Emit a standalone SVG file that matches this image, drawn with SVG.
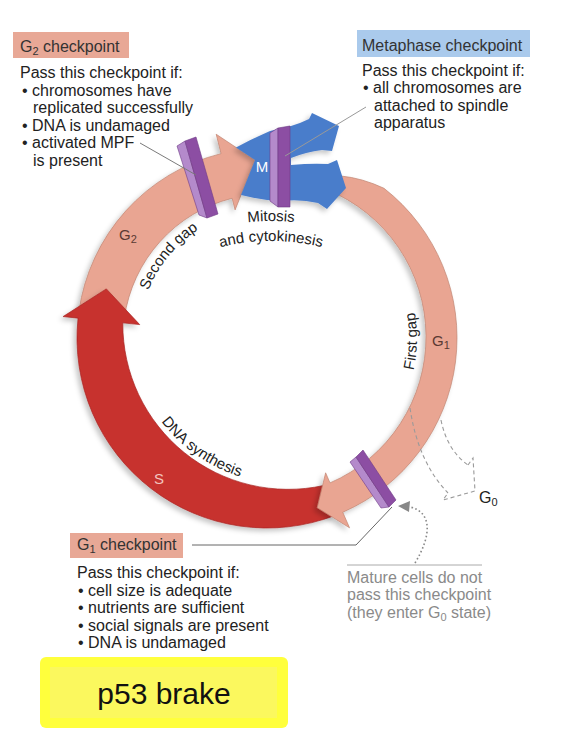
<svg xmlns="http://www.w3.org/2000/svg" width="574" height="746" viewBox="0 0 574 746">
<style>
.t{font-family:"Liberation Sans",Arial,sans-serif;font-size:16px;fill:#222}
.r{font-family:"Liberation Sans",Arial,sans-serif;font-size:15px;fill:#222}
.g{fill:#8a8a8a}
.sal{fill:#E9A592;stroke:#C08573;stroke-width:0.7}
.red{fill:#C7302E;stroke:#A82624;stroke-width:0.7}
.blue{fill:#4A7DCB}
.pd{fill:#8C4EA3;stroke:#6E3A86;stroke-width:0.6}
.pl{fill:#B48ACB;stroke:#6E3A86;stroke-width:0.6}
.ln{fill:none;stroke:#7a7a7a;stroke-width:1}
.dash{fill:none;stroke:#9a9a9a;stroke-width:1.1;stroke-dasharray:4 3}
</style>
<defs>
<filter id="sh" x="-10%" y="-10%" width="120%" height="120%">
<feGaussianBlur in="SourceAlpha" stdDeviation="2.5"/>
<feOffset dx="-3" dy="3" result="b"/>
<feFlood flood-color="#000" flood-opacity="0.22"/>
<feComposite in2="b" operator="in"/>
<feMerge><feMergeNode/><feMergeNode in="SourceGraphic"/></feMerge>
</filter>
<path id="p-second" d="M 140.5,318.5 A 131 131 0 0 1 224.5,216.5"/>
<path id="p-first" d="M 402.95,401.39 A 150 150 0 0 0 405.68,280.84"/>
<path id="p-dna" d="M 137.80,378.72 A 160 160 0 0 0 288.15,484"/>
<path id="p-mit" d="M 231,224.8 A 212 212 0 0 1 311,224.8"/>
<path id="p-cyt" d="M 201,252.9 A 212 212 0 0 1 341,252.9"/>
</defs>

<g id="phase-G2" filter="url(#sh)">
<path class="sal" d="M 78.85,311.56 A 190 190 0 0 1 221.04,153.64 L 216.20,134.24 L 255,160 L 235.07,209.92 L 232.16,198.28 A 144 144 0 0 0 124.40,317.96 Z"/>
</g>
<g id="phase-S" filter="url(#sh)">
<path class="red" d="M 335.09,515.38 A 190 190 0 0 1 78.04,318.14 L 63.12,316.57 L 106.34,288.88 L 139.70,324.62 L 122.79,322.84 A 165.4 165.4 0 0 0 323.62,485.51 Z"/>
</g>
<g id="phase-G1" filter="url(#sh)">
<path class="sal" d="M 341,176 Q 362,178 383.98,188.28 A 190 190 0 0 1 342.76,512.24 L 349.54,527.83 L 317.27,507.71 L 325.62,472.81 L 330.00,482.90 A 159 159 0 0 0 326.94,189.65 Z"/>
</g>
<g id="phase-M" filter="url(#sh)">
<path class="blue" d="M 236,147.4 Q 252,139 270,131 L 291,126 Q 301,123 309,119 L 312,113 L 339,126 L 332,151 L 322,150 Q 306,152 291,158 L 291,165 Q 312,163 328,164 L 337,160 L 346,188 L 327,209 L 318,203 Q 300,199 282,201 Q 260,200 241,195 L 255,160 Z"/>
</g>

<g id="phase-labels">
<text class="r" x="119" y="240" style="fill:#5a3a33">G<tspan font-size="11" dy="3">2</tspan></text>
<text class="r" x="432" y="346" style="fill:#5a3a33">G<tspan font-size="11" dy="3">1</tspan></text>
<text class="r" x="154" y="484" style="fill:#F3C4BE">S</text>
<text class="r" x="262" y="172" text-anchor="middle" style="fill:#fff">M</text>
<text class="r"><textPath href="#p-second" startOffset="50%" text-anchor="middle">Second gap</textPath></text>
<text class="r"><textPath href="#p-first" startOffset="50%" text-anchor="middle">First gap</textPath></text>
<text class="r"><textPath href="#p-dna" startOffset="50%" text-anchor="middle">DNA synthesis</textPath></text>
<text class="r"><textPath href="#p-mit" startOffset="50%" text-anchor="middle">Mitosis</textPath></text>
<text class="r"><textPath href="#p-cyt" startOffset="50%" text-anchor="middle">and cytokinesis</textPath></text>
</g>

<g id="bar-G2">
<polygon class="pl" points="177,146 185,141 207,218 199,215"/>
<polygon class="pd" points="185,141 196,137 218,214 207,218"/>
</g>
<g id="bar-M">
<polygon class="pl" points="270,133 278,128 278,207 270,201"/>
<polygon class="pd" points="278,128 290,126 290,207 278,207"/>
</g>
<g id="bar-G1">
<polygon class="pl" points="350,462 356,457 389,507 381,508"/>
<polygon class="pd" points="356,457 363,450 396,500 389,507"/>
</g>

<g id="connectors">
<path class="ln" d="M 140,143 L 196,175"/>
<path class="ln" d="M 285,156 L 366,107" style="stroke:#999"/>
<path class="ln" d="M 192,545 L 356,545 L 392,507" style="stroke:#666"/>
<path class="ln" d="M 347,565 L 482,565" style="stroke:#aaa"/>
<path d="M 415,563 C 432,535 432,512 410,507" fill="none" stroke="#888" stroke-width="1.6" stroke-dasharray="1.6 2.4"/>
<polygon points="398,506 410,501 409,512" fill="#888"/>
<path class="dash" d="M 410,408 Q 418,462 448,493"/>
<path class="dash" d="M 441,420 Q 447,450 468,465"/>
<path class="dash" d="M 468,465 L 473,458 L 475,491 L 443,500 L 448,493"/>
</g>

<g id="g2-checkpoint">
<rect x="13" y="32" width="116" height="26" fill="#E8A896"/>
<text class="t" x="20" y="52" style="fill:#333">G<tspan font-size="11" dy="3">2</tspan><tspan dy="-3"> checkpoint</tspan></text>
<text class="t" x="20" y="78">Pass this checkpoint if:</text>
<text class="t" x="22" y="96">• chromosomes have</text>
<text class="t" x="33" y="113">replicated successfully</text>
<text class="t" x="22" y="131">• DNA is undamaged</text>
<text class="t" x="22" y="148">• activated MPF</text>
<text class="t" x="33" y="166">is present</text>
</g>

<g id="metaphase-checkpoint">
<rect x="357" y="30" width="173" height="27" fill="#AACAEC"/>
<text class="t" x="362" y="51" style="fill:#333">Metaphase checkpoint</text>
<text class="t" x="362" y="76">Pass this checkpoint if:</text>
<text class="t" x="363" y="93">• all chromosomes are</text>
<text class="t" x="374" y="111">attached to spindle</text>
<text class="t" x="374" y="128">apparatus</text>
</g>

<g id="g0">
<text class="t" x="479" y="503">G<tspan font-size="11" dy="3">0</tspan></text>
</g>

<g id="mature-note">
<text class="t g" x="347" y="583">Mature cells do not</text>
<text class="t g" x="347" y="600">pass this checkpoint</text>
<text class="t g" x="347" y="618">(they enter G<tspan font-size="11" dy="3">0</tspan><tspan dy="-3"> state)</tspan></text>
</g>

<g id="g1-checkpoint">
<rect x="70" y="533" width="113" height="25" fill="#E8A896"/>
<text class="t" x="77" y="550" style="fill:#333">G<tspan font-size="11" dy="3">1</tspan><tspan dy="-3"> checkpoint</tspan></text>
<text class="t" x="77" y="578">Pass this checkpoint if:</text>
<text class="t" x="78" y="596">• cell size is adequate</text>
<text class="t" x="78" y="613">• nutrients are sufficient</text>
<text class="t" x="78" y="631">• social signals are present</text>
<text class="t" x="78" y="648">• DNA is undamaged</text>
</g>

<g id="p53-brake">
<rect x="40" y="657" width="248" height="71" rx="6" fill="#FFFF3C"/>
<rect x="50" y="667" width="227" height="51" fill="#FBF85E"/>
<text x="164" y="704" text-anchor="middle" style="font-family:'Liberation Sans',Arial,sans-serif;font-size:30px;fill:#111">p53 brake</text>
</g>
</svg>
